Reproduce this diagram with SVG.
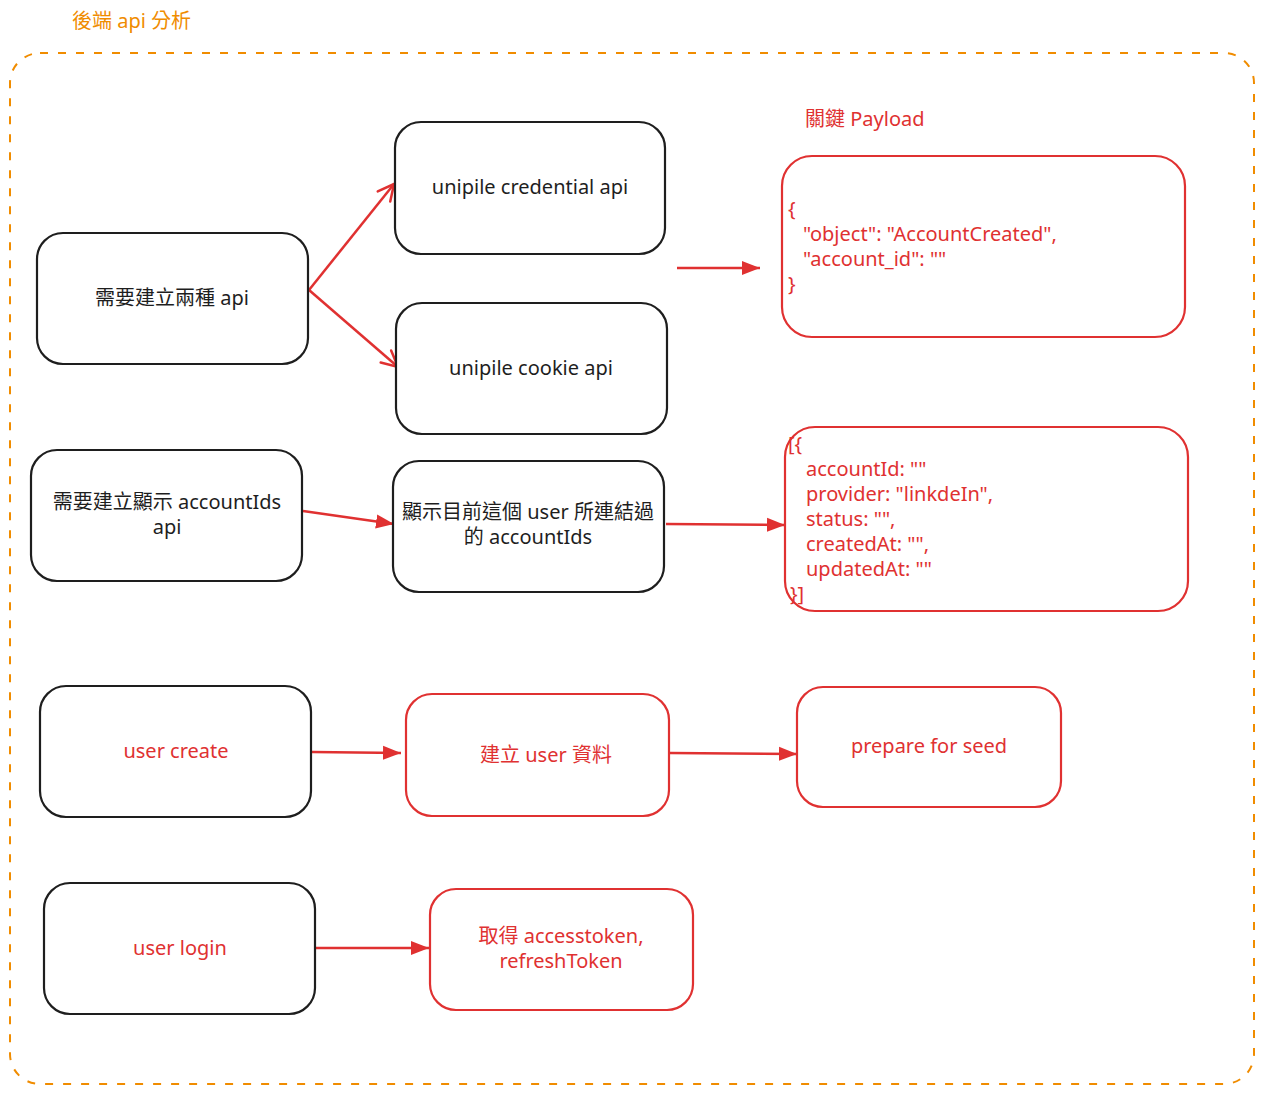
<svg xmlns="http://www.w3.org/2000/svg" width="1264" height="1093" viewBox="0 0 1264 1093">
<style>
  .t { font-family: "Noto Sans", "Noto Sans CJK TC", sans-serif; font-size: 20px; }
  .blk { fill: #1e1e1e; }
  .red { fill: #e03131; }
  .org { fill: #f08c00; }
  .nb { fill: #ffffff; stroke: #1e1e1e; stroke-width: 2.2; }
  .nr { fill: #ffffff; stroke: #e03131; stroke-width: 2.2; }
  .c { stroke: #e03131; stroke-width: 2.5; fill: none; }
</style>
<defs>
  <marker id="open" markerUnits="userSpaceOnUse" markerWidth="24" markerHeight="24" refX="20" refY="12" orient="auto">
    <path d="M4,4 L20,12 L4,20" fill="none" stroke="#e03131" stroke-width="2.5" stroke-linecap="round"/>
  </marker>
  <marker id="tri" markerUnits="userSpaceOnUse" markerWidth="20" markerHeight="16" refX="18" refY="8" orient="auto">
    <path d="M0,1 L18,8 L0,15 Z" fill="#e03131"/>
  </marker>
</defs>
<rect width="1264" height="1093" fill="#ffffff"/>

<g id="frame">
  <rect x="10" y="53" width="1244" height="1031" rx="30" fill="none" stroke="#f08c00" stroke-width="2" stroke-dasharray="8 10"/>
  <text class="t org" x="72" y="28">後端 api 分析</text>
</g>

<g id="connectors">
  <line class="c" x1="309" y1="290" x2="394" y2="184" marker-end="url(#open)"/>
  <line class="c" x1="309" y1="290" x2="398" y2="367" marker-end="url(#open)"/>
  <line class="c" x1="677" y1="268" x2="760" y2="268" marker-end="url(#tri)"/>
  <line class="c" x1="303" y1="511" x2="394" y2="524" marker-end="url(#tri)"/>
  <line class="c" x1="666" y1="524" x2="785" y2="525" marker-end="url(#tri)"/>
  <line class="c" x1="312" y1="752" x2="401" y2="753" marker-end="url(#tri)"/>
  <line class="c" x1="670" y1="753" x2="797" y2="754" marker-end="url(#tri)"/>
  <line class="c" x1="316" y1="948" x2="429" y2="948" marker-end="url(#tri)"/>
</g>

<g id="node-two-apis">
  <rect class="nb" x="37" y="233" width="271" height="131" rx="26"/>
  <text class="t blk" x="172" y="305" text-anchor="middle">需要建立兩種 api</text>
</g>
<g id="node-credential">
  <rect class="nb" x="395" y="122" width="270" height="132" rx="26"/>
  <text class="t blk" x="530" y="194" text-anchor="middle">unipile credential api</text>
</g>
<g id="node-cookie">
  <rect class="nb" x="396" y="303" width="271" height="131" rx="26"/>
  <text class="t blk" x="531" y="375" text-anchor="middle">unipile cookie api</text>
</g>
<g id="node-payload">
  <text class="t red" x="805" y="126">關鍵 Payload</text>
  <rect class="nr" x="782" y="156" width="403" height="181" rx="30"/>
  <text class="t red" y="216"><tspan x="788">{</tspan><tspan x="803" y="241">"object": "AccountCreated",</tspan><tspan x="803" y="266">"account_id": ""</tspan><tspan x="788" y="291">}</tspan></text>
</g>
<g id="node-show-accountids-api">
  <rect class="nb" x="31" y="450" width="271" height="131" rx="26"/>
  <text class="t blk" text-anchor="middle"><tspan x="167" y="509">需要建立顯示 accountIds</tspan><tspan x="167" y="534">api</tspan></text>
</g>
<g id="node-user-accountids">
  <rect class="nb" x="393" y="461" width="271" height="131" rx="26"/>
  <text class="t blk" text-anchor="middle"><tspan x="528" y="519">顯示目前這個 user 所連結過</tspan><tspan x="528" y="544">的 accountIds</tspan></text>
</g>
<g id="node-accounts-json">
  <rect class="nr" x="785" y="427" width="403" height="184" rx="30"/>
  <text class="t red"><tspan x="788" y="451">[{</tspan><tspan x="806" y="476">accountId: ""</tspan><tspan x="806" y="501">provider: "linkdeIn",</tspan><tspan x="806" y="526">status: "",</tspan><tspan x="806" y="551">createdAt: "",</tspan><tspan x="806" y="576">updatedAt: ""</tspan><tspan x="790" y="601">}]</tspan></text>
</g>
<g id="node-user-create">
  <rect class="nb" x="40" y="686" width="271" height="131" rx="26"/>
  <text class="t red" x="176" y="758" text-anchor="middle">user create</text>
</g>
<g id="node-create-user-data">
  <rect class="nr" x="406" y="694" width="263" height="122" rx="26"/>
  <text class="t red" x="546" y="762" text-anchor="middle">建立 user 資料</text>
</g>
<g id="node-prepare-seed">
  <rect class="nr" x="797" y="687" width="264" height="120" rx="26"/>
  <text class="t red" x="929" y="753" text-anchor="middle">prepare for seed</text>
</g>
<g id="node-user-login">
  <rect class="nb" x="44" y="883" width="271" height="131" rx="26"/>
  <text class="t red" x="180" y="955" text-anchor="middle">user login</text>
</g>
<g id="node-get-token">
  <rect class="nr" x="430" y="889" width="263" height="121" rx="26"/>
  <text class="t red" text-anchor="middle"><tspan x="561" y="943">取得 accesstoken,</tspan><tspan x="561" y="968">refreshToken</tspan></text>
</g>
</svg>
